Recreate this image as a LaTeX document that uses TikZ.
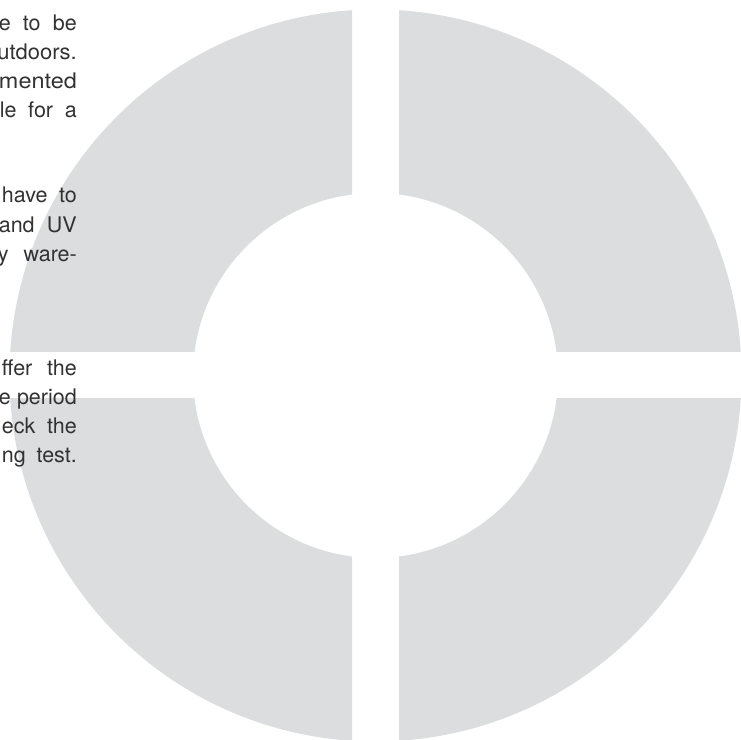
\documentclass[tikz,border=0pt]{standalone}
\usepackage{fontspec}
\setmainfont{TeX Gyre Heros}
\usetikzlibrary{calc}
\definecolor{ringgray}{RGB}{220,221,223}
\definecolor{txtgray}{RGB}{50,50,50}
\begin{document}
\begin{tikzpicture}[x=1pt,y=1pt,
  txt/.style={anchor=base east,inner sep=0pt,text=txtgray,font=\fontsize{21.5}{29}\selectfont}]
\useasboundingbox (0,0) rectangle (741,739);
\clip (0,0) rectangle (741,739);
\coordinate (c) at (375.5,363.5);
% four quadrants of the ring
\foreach \sx/\sy in {1/1,-1/1,-1/-1,1/-1}{
  \begin{scope}
    \clip ($(c)+(\sx*23.5,\sy*23.5)$) rectangle ($(c)+(\sx*420,\sy*420)$);
    \fill[ringgray,even odd rule] (c) circle (366) (c) circle (182.5);
  \end{scope}
}
% text fragments
\node[txt] (t1) at (77,708) {\makebox[78pt][s]{e to be}};
\node[txt] (t2) at (77,679) {\scalebox{1.02}[1]{utdoors.}};
\node[txt] (t3) at (77,650) {\scalebox{1.09}[1]{mented}};
\node[txt] (t4) at (77,621) {\makebox[77pt][s]{le for a}};
\node[txt] (t5) at (77,536) {\makebox[75pt][s]{have to}};
\node[txt] (t6) at (77,506) {\makebox[78pt][s]{and UV}};
\node[txt] (t7) at (77,477) {\makebox[79pt][s]{y ware-}};
\node[txt] (t8) at (77,363) {\makebox[75pt][s]{ffer the}};
\node[txt] (t9) at (77,334) {\makebox[78pt][s]{e period}};
\node[txt] (t10) at (77,305) {\makebox[75pt][s]{eck the}};
\node[txt] (t11) at (77,276) {\makebox[75pt][s]{ng test.}};
\end{tikzpicture}
\end{document}
